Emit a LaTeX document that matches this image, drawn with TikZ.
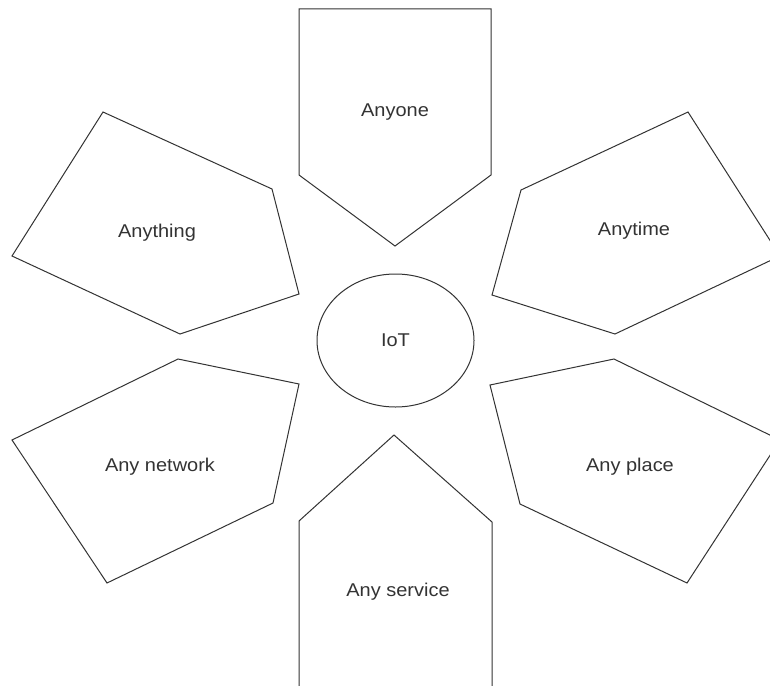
\documentclass[tikz,border=0pt]{standalone}
\usepackage{fontspec}
\setmainfont{Liberation Sans}[FakeStretch=1.08]
\usetikzlibrary{shapes.geometric}
\definecolor{ink}{HTML}{333333}
\tikzset{
  petal/.style={draw=ink, line width=1pt, line join=miter},
  lbl/.style={text=ink, font=\fontsize{18.5}{20}\selectfont, inner sep=0pt},
}
\begin{document}
\begin{tikzpicture}[x=1pt,y=-1pt]
\useasboundingbox (0,0) rectangle (770,685);
\clip (0,0) rectangle (770,685);
\fill[white] (0,0) rectangle (770,685);
% Anyone
\draw[petal] (299,9) -- (491,9) -- (491,175) -- (395,246) -- (299,175) -- cycle;
% Anything
\draw[petal] (103,112) -- (272,189) -- (299,294) -- (180,334) -- (12,256) -- cycle;
% Anytime
\draw[petal] (688,112) -- (780,256) -- (615,334) -- (492,295) -- (521,190) -- cycle;
% Any network
\draw[petal] (178,359) -- (299,384) -- (273,503) -- (107,583) -- (12,440) -- cycle;
% Any place
\draw[petal] (614,359) -- (780,440) -- (687,583) -- (520,504) -- (490,385) -- cycle;
% Any service
\draw[petal] (394,435) -- (492,522) -- (492,700) -- (299,700) -- (299,521) -- cycle;
% centre
\node[ellipse, draw=ink, line width=1pt, minimum width=157pt, minimum height=133pt, inner sep=0pt, text=ink, font=\fontsize{18.5}{20}\selectfont] (iot) at (395.5,340.5) {IoT};
% labels
\node[lbl] (anyone) at (395,112) {Anyone};
\node[lbl] (anything) at (157,233) {Anything};
\node[lbl] (anytime) at (634,231) {Anytime};
\node[lbl] (anynetwork) at (160,467) {Any network};
\node[lbl] (anyplace) at (630,467) {Any place};
\node[lbl] (anyservice) at (398,592) {Any service};
\end{tikzpicture}
\end{document}
